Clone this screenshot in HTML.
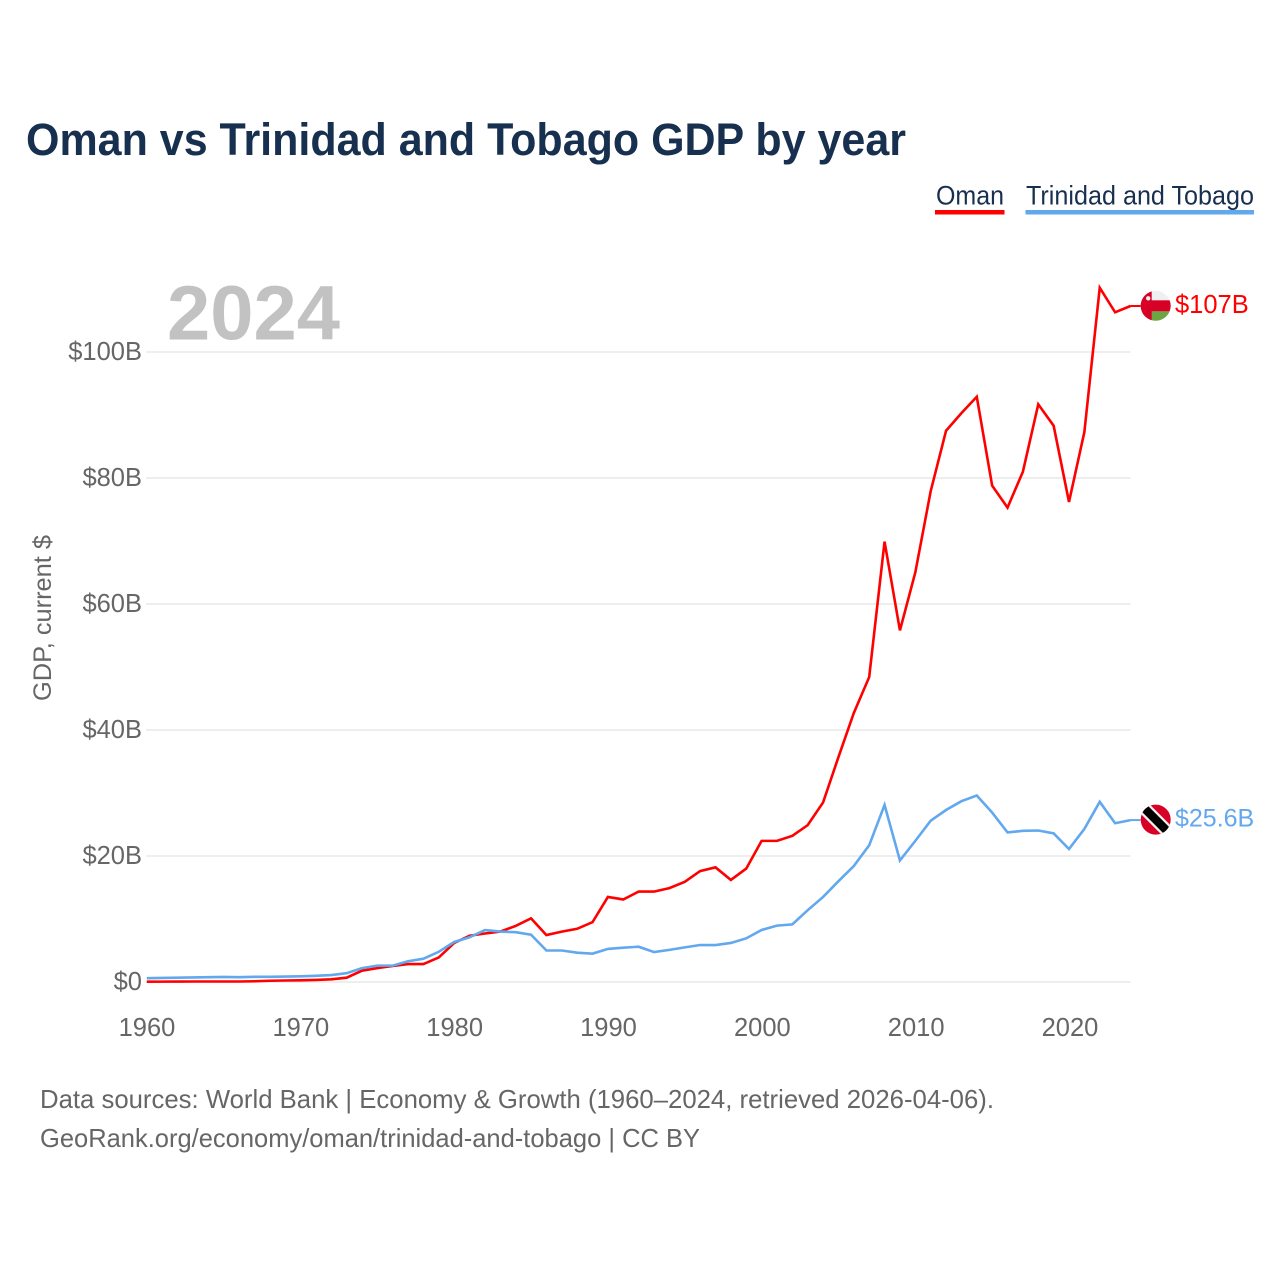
<!DOCTYPE html>
<html lang="en">
<head>
<meta charset="utf-8">
<title>Oman vs Trinidad and Tobago GDP by year</title>
<style>
  html, body { margin: 0; padding: 0; background: #ffffff; }
  svg { display: block; font-family: "Liberation Sans", sans-serif; }
</style>
</head>
<body>
<svg id="chart" xmlns="http://www.w3.org/2000/svg" width="1280" height="1280" viewBox="0 0 1280 1280">
  <rect x="0" y="0" width="1280" height="1280" fill="#ffffff"/>
  <text x="26" y="155" font-size="45" font-weight="700" fill="#18304f" textLength="880" lengthAdjust="spacingAndGlyphs">Oman vs Trinidad and Tobago GDP by year</text>

  <g>
    <g>
      <text x="936" y="204.5" font-size="27" fill="#18304f" textLength="68" lengthAdjust="spacingAndGlyphs">Oman</text>
      <rect x="935" y="210" width="69.5" height="4.5" fill="#ff0000"/>
    </g>
    <g>
      <text x="1026" y="204.5" font-size="27" fill="#18304f" textLength="228" lengthAdjust="spacingAndGlyphs">Trinidad and Tobago</text>
      <rect x="1025.5" y="210" width="228.5" height="4.5" fill="#62a8ee"/>
    </g>
  </g>

  <g id="grid"></g>
  <g id="yticks"></g>
  <g id="xticks"></g>

  <text x="167" y="339.5" font-size="77" font-weight="700" fill="#c2c2c2" textLength="173" lengthAdjust="spacingAndGlyphs">2024</text>
  <text transform="translate(51 701) rotate(-90)" font-size="25" fill="#666666" textLength="166" lengthAdjust="spacingAndGlyphs">GDP, current $</text>

  <g id="series"></g>

  <defs>
    <clipPath id="flag-clip"><circle cx="0" cy="0" r="15"/></clipPath>
  </defs>

  <g id="flag-oman">
    <g clip-path="url(#flag-clip)">
      <rect x="-16" y="-16" width="32" height="32" fill="#f0f0f0"/>
      <rect x="-16" y="5.5" width="32" height="11" fill="#6da544"/>
      <rect x="-16" y="-5.5" width="32" height="11" fill="#d80027"/>
      <rect x="-16" y="-16" width="12" height="32" fill="#d80027"/>
      <circle cx="-7.5" cy="-7.5" r="2.2" fill="#f0f0f0"/>
    </g>
  </g>

  <g id="flag-tt">
    <g clip-path="url(#flag-clip)">
      <rect x="-16" y="-16" width="32" height="32" fill="#d80027"/>
      <line x1="-16" y1="-16" x2="16" y2="16" stroke="#f0f0f0" stroke-width="13"/>
      <line x1="-16" y1="-16" x2="16" y2="16" stroke="#000000" stroke-width="8.5"/>
    </g>
  </g>

  <text id="label-oman" x="1175" font-size="25.5" fill="#ff0000"></text>
  <text id="label-tt" x="1175" font-size="25" fill="#62a8ee"></text>

  <g>
    <text x="40" y="1108" font-size="26" fill="#666666" textLength="954" lengthAdjust="spacingAndGlyphs">Data sources: World Bank | Economy &amp; Growth (1960–2024, retrieved 2026-04-06).</text>
    <text x="40" y="1147" font-size="26" fill="#666666" textLength="660" lengthAdjust="spacingAndGlyphs">GeoRank.org/economy/oman/trinidad-and-tobago | CC BY</text>
  </g>
</svg>

<script>
const years = [1960,1961,1962,1963,1964,1965,1966,1967,1968,1969,1970,1971,1972,1973,1974,1975,1976,1977,1978,1979,1980,1981,1982,1983,1984,1985,1986,1987,1988,1989,1990,1991,1992,1993,1994,1995,1996,1997,1998,1999,2000,2001,2002,2003,2004,2005,2006,2007,2008,2009,2010,2011,2012,2013,2014,2015,2016,2017,2018,2019,2020,2021,2022,2023,2024];
const omanGdp = [0.05,0.06,0.07,0.08,0.08,0.08,0.08,0.12,0.2,0.24,0.27,0.32,0.42,0.68,1.8,2.2,2.55,2.85,2.85,3.9,6.2,7.35,7.7,8.0,8.9,10.1,7.45,8.0,8.45,9.5,13.5,13.1,14.35,14.35,14.9,15.9,17.6,18.2,16.2,18.0,22.4,22.4,23.2,24.9,28.5,35.7,42.7,48.4,69.9,55.8,65.0,77.9,87.5,90.3,92.9,78.8,75.3,81.0,91.7,88.3,76.2,87.3,110.2,106.3,107.3];
const ttGdp = [0.6,0.64,0.68,0.72,0.76,0.8,0.76,0.82,0.82,0.86,0.9,0.98,1.1,1.4,2.2,2.6,2.6,3.3,3.7,4.8,6.35,7.1,8.25,8.0,7.9,7.5,5.0,5.0,4.65,4.5,5.25,5.45,5.6,4.75,5.1,5.5,5.87,5.87,6.2,6.93,8.25,8.95,9.15,11.4,13.5,16.0,18.4,21.7,28.1,19.3,22.4,25.6,27.3,28.7,29.6,26.9,23.75,24.0,24.05,23.6,21.1,24.3,28.6,25.2,25.7];
const yTickValues = [0,20,40,60,80,100];
const yTickLabels = ["$0","$20B","$40B","$60B","$80B","$100B"];
const xTickValues = [1960,1970,1980,1990,2000,2010,2020];
const endLabels = ["$107B","$25.6B"];

const NS = "http://www.w3.org/2000/svg";
function xScale(year) { return 146.8 + (year - 1960) * 15.37; }
function xLabelScale(year) { return 147 + (year - 1960) * (923 / 60); }
function yScale(value) { return 982 - value * 6.3; }

function make(tag, parent, attrs) {
  const el = document.createElementNS(NS, tag);
  for (const key in attrs) { el.setAttribute(key, attrs[key]); }
  parent.appendChild(el);
  return el;
}

const gridGroup = document.getElementById("grid");
const yTickGroup = document.getElementById("yticks");
const xTickGroup = document.getElementById("xticks");
const seriesGroup = document.getElementById("series");

yTickValues.forEach(function (value, i) {
  const line = make("line", gridGroup, { x1: 146, x2: xScale(2024), y1: yScale(value), y2: yScale(value), stroke: "#eeeeee", "stroke-width": 2 });
  
  
  const label = make("text", yTickGroup, { x: 142, y: yScale(value) + 8, "text-anchor": "end", "font-size": 25.5, fill: "#666666" });
  
  
  label.textContent = yTickLabels[i];
});

xTickValues.forEach(function (year) {
  const label = make("text", xTickGroup, { x: xLabelScale(year), y: 1036, "text-anchor": "middle", "font-size": 25.5, fill: "#666666" });
  
  
  label.textContent = String(year);
});

function linePoints(values) {
  return values.map(function (v, i) { return xScale(years[i]).toFixed(2) + "," + yScale(v).toFixed(2); }).join(" ");
}

const omanLine = make("polyline", seriesGroup, { points: linePoints(omanGdp), fill: "none", stroke: "#ff0000", "stroke-width": 2.6, "stroke-linejoin": "miter" });



const ttLine = make("polyline", seriesGroup, { points: linePoints(ttGdp), fill: "none", stroke: "#62a8ee", "stroke-width": 2.6, "stroke-linejoin": "miter" });



const lastYear = years[years.length - 1];
const omanLast = omanGdp[omanGdp.length - 1];
const ttLast = ttGdp[ttGdp.length - 1];

const omanLeader = make("line", seriesGroup, { x1: xScale(lastYear), x2: xScale(lastYear) + 10, y1: yScale(omanLast), y2: yScale(omanLast), stroke: "#ff0000", "stroke-width": 2 });



const ttLeader = make("line", seriesGroup, { x1: xScale(lastYear), x2: xScale(lastYear) + 10, y1: yScale(ttLast), y2: yScale(ttLast), stroke: "#62a8ee", "stroke-width": 2 });



document.getElementById("flag-oman").setAttribute("transform", "translate(1155.7 " + (yScale(omanLast) - 0.2) + ")");
document.getElementById("flag-tt").setAttribute("transform", "translate(1155.7 " + (yScale(ttLast) - 0.5) + ")");

const omanLabel = document.getElementById("label-oman");
omanLabel.setAttribute("y", yScale(omanLast) + 7);
omanLabel.textContent = endLabels[0];

const ttLabel = document.getElementById("label-tt");
ttLabel.setAttribute("y", yScale(ttLast) + 6.5);
ttLabel.textContent = endLabels[1];
</script>
</body>
</html>
